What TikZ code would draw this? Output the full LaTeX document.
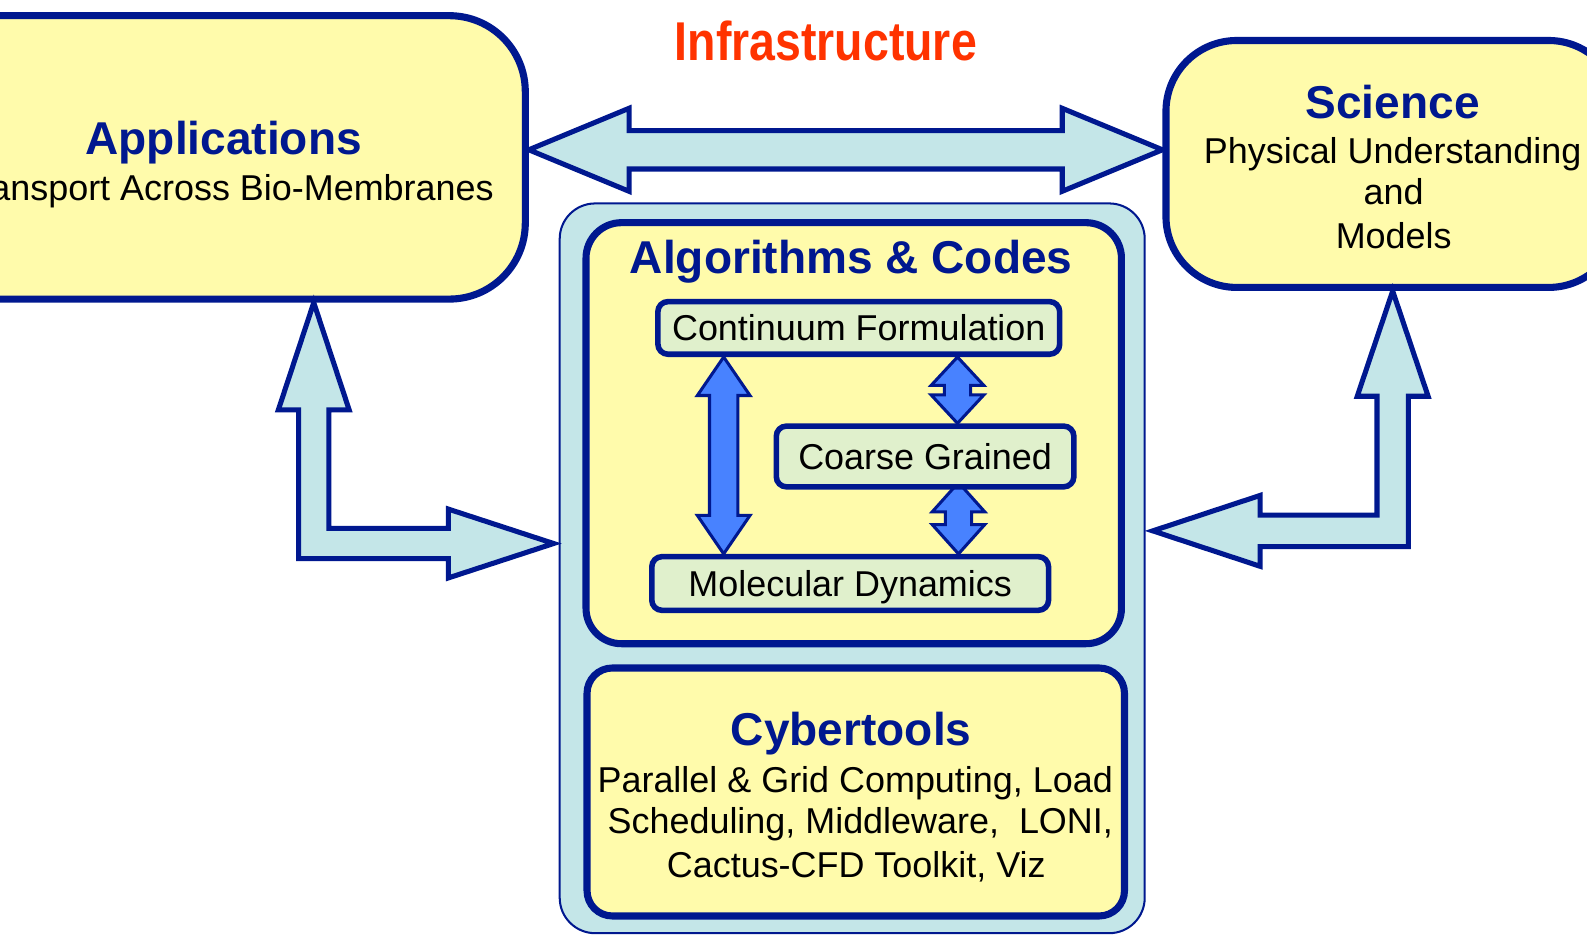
\documentclass[tikz,border=0pt]{standalone}
\usepackage{fontspec}
\setmainfont{Liberation Sans}
\usepackage{graphicx}
\usetikzlibrary{calc}
\definecolor{navy}{RGB}{0,24,143}
\definecolor{yel}{RGB}{255,251,171}
\definecolor{lblue}{RGB}{196,230,232}
\definecolor{lgreen}{RGB}{224,240,204}
\definecolor{blueA}{RGB}{72,130,255}
\definecolor{infred}{RGB}{255,51,0}
\newcommand\mytitlefont{\fontsize{45.5}{50}\selectfont\bfseries}
\newcommand\mybodyfont{\fontsize{35.5}{40}\selectfont}
\pgfdeclarelayer{back}
\pgfdeclarelayer{mid}
\pgfsetlayers{back,mid,main}
\tikzset{
  bigbox/.style={draw=navy, fill=yel, line width=7pt},
  contbox/.style={draw=navy, fill=lblue, line width=2pt},
  innerbox/.style={draw=navy, fill=lgreen, line width=5.5pt, rounded corners=10pt, inner sep=0pt, text height=25.4pt, text depth=0pt, font=\mybodyfont},
  ttl/.style={anchor=base, inner sep=0pt, text=navy, font=\mytitlefont},
  body/.style={anchor=base, inner sep=0pt, font=\mybodyfont},
  lbarrow/.style={draw=navy, fill=lblue, line width=5pt},
  bbarrow/.style={draw=navy, fill=blueA, line width=3pt},
}
% vertical double arrow: #1 style, #2 top tip, #3 bottom tip, #4 shaft half, #5 head half, #6 head length
\newcommand\vdblarrow[6]{%
  \draw[#1] (#2) -- ($(#2)+(#5,#6)$) -- ($(#2)+(#4,#6)$) -- ($(#3)+(#4,-#6)$) -- ($(#3)+(#5,-#6)$) -- (#3)
    -- ($(#3)+(-#5,-#6)$) -- ($(#3)+(-#4,-#6)$) -- ($(#2)+(-#4,#6)$) -- ($(#2)+(-#5,#6)$) -- cycle;}
% horizontal double arrow: #1 style, #2 left tip, #3 right tip, #4 shaft half, #5 head half, #6 head length
\newcommand\hdblarrow[6]{%
  \draw[#1] (#2) -- ($(#2)+(#6,-#5)$) -- ($(#2)+(#6,-#4)$) -- ($(#3)+(-#6,-#4)$) -- ($(#3)+(-#6,-#5)$) -- (#3)
    -- ($(#3)+(-#6,#5)$) -- ($(#3)+(-#6,#4)$) -- ($(#2)+(#6,#4)$) -- ($(#2)+(#6,#5)$) -- cycle;}
\begin{document}
\begin{tikzpicture}[x=1pt,y=-1pt]
\useasboundingbox (0,0) rectangle (1568,925);
\begin{pgfonlayer}{back}
\begin{scope}
\clip (0,0) rectangle (1568,925);
\node[contbox, minimum width=578, minimum height=721, rounded corners=35] (cont) at (842,561.5) {};
\node[bigbox, minimum width=596, minimum height=280, rounded corners=75] (app) at (221,155.5) {};
\node[bigbox, minimum width=448, minimum height=244, rounded corners=70] (sci) at (1376,162) {};
\node[bigbox, minimum width=529, minimum height=416, rounded corners=35] (algo) at (843.5,428) {};
\node[bigbox, minimum width=531, minimum height=245, rounded corners=25] (cyber) at (845.5,782.5) {};
\end{scope}
\end{pgfonlayer}

% texts
\begin{scope}
\clip (0,0) rectangle (1568,925);
\node[ttl] (appT) at (221,153) {Applications};
\node[body] (appS) at (223,198) {Transport Across Bio-Membranes};
\end{scope}
\node[ttl] (sciT) at (1376,117) {Science};
\node[body] (sciS1) at (1376,162) {Physical Understanding};
\node[body] (sciS2) at (1377,202) {and};
\node[body] (sciS3) at (1377,246) {Models};
\node[anchor=base, inner sep=0pt, text=infred, font=\fontsize{54}{58}\selectfont\bfseries] (infra) at (816,60) {\scalebox{0.85}[1]{Infrastructure}};
\node[ttl] (algoT) at (841,270) {Algorithms \& Codes};
\node[ttl] (cyberT) at (841,737) {Cybertools};
\node[body] (cy1) at (845,783) {Parallel \& Grid Computing, Load};
\node[body] (cy2) at (850,824) {Scheduling, Middleware,\ \ LONI,};
\node[body] (cy3) at (846,867) {Cactus-CFD Toolkit, Viz};

% inner boxes
\node[innerbox, minimum width=397, minimum height=52] (cf) at (848.5,324) {Continuum Formulation};
\node[innerbox, minimum width=294, minimum height=60] (cg) at (914,451) {Coarse Grained};
\node[innerbox, minimum width=392, minimum height=53] (md) at (840,576.5) {Molecular Dynamics};

% blue arrows
\coordinate (xa) at (715,0);
\coordinate (xb) at (946,0);
\coordinate (xc) at (947,0);
\coordinate (b1t) at (xa |- cf.south);
\coordinate (b1b) at (xa |- md.north);
\coordinate (b2t) at (xb |- cf.south);
\coordinate (b2b) at (xb |- cg.north);
\coordinate (b3t) at ($(xc |- cg.south)+(0,-7)$);
\coordinate (b3b) at (xc |- md.north);
\begin{pgfonlayer}{mid}
\vdblarrow{bbarrow}{b1t}{b1b}{14}{26}{38}
\vdblarrow{bbarrow}{b2t}{b2b}{13}{26}{28}
\vdblarrow{bbarrow}{b3t}{b3b}{13}{26}{29}
\end{pgfonlayer}

% infrastructure arrow
\coordinate (yinf) at (0,148);
\coordinate (tL) at (app.east |- yinf);
\coordinate (tR) at (sci.west |- yinf);
\hdblarrow{lbarrow}{tL}{tR}{19}{41}{99}

% left L arrow
\coordinate (xL) at (310,0);
\coordinate (yL) at (0,537);
\coordinate (Lt) at (xL |- app.south);
\coordinate (Lr) at ($(cont.west |- yL)+(-5,0)$);
\draw[lbarrow] (Lt) -- ($(Lt)+(35,106)$) -- ($(Lt)+(15,106)$) -- ($(Lt |- Lr)+(15,-15)$)
  -- ($(Lr)+(-104,-15)$) -- ($(Lr)+(-104,-34)$) -- (Lr) -- ($(Lr)+(-104,34)$) -- ($(Lr)+(-104,15)$)
  -- ($(Lt |- Lr)+(-15,15)$) -- ($(Lt)+(-15,106)$) -- ($(Lt)+(-35,106)$) -- cycle;

% right L arrow
\coordinate (xR) at (1376,0);
\coordinate (yR) at (0,524.5);
\coordinate (Rt) at (xR |- sci.south);
\coordinate (Rl) at ($(cont.east |- yR)+(7,0)$);
\draw[lbarrow] (Rt) -- ($(Rt)+(35,104)$) -- ($(Rt)+(15.5,104)$) -- ($(Rt |- Rl)+(15.5,15.5)$)
  -- ($(Rl)+(106,15.5)$) -- ($(Rl)+(106,35)$) -- (Rl) -- ($(Rl)+(106,-35)$) -- ($(Rl)+(106,-15.5)$)
  -- ($(Rt |- Rl)+(-15.5,-15.5)$) -- ($(Rt)+(-15.5,104)$) -- ($(Rt)+(-35,104)$) -- cycle;
\end{tikzpicture}
\end{document}
